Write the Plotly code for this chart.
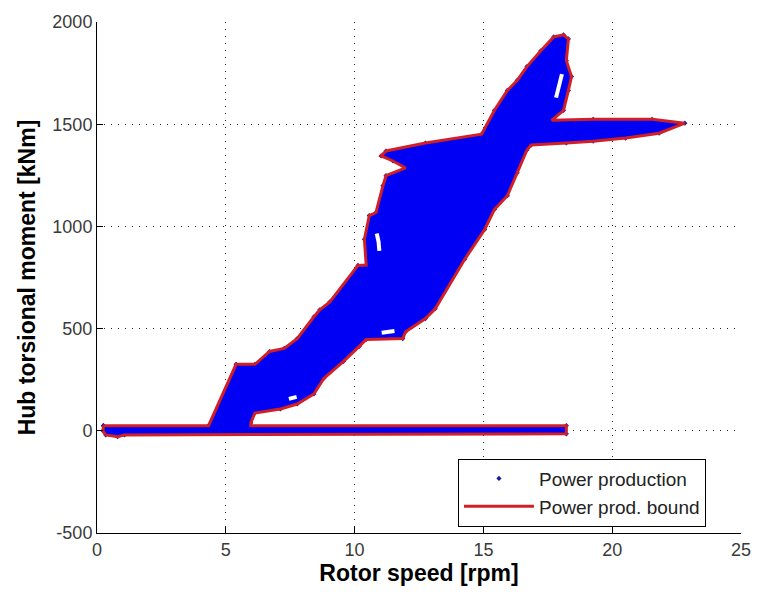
import plotly.graph_objects as go

# Outline of the power-production operating envelope (rotor speed [rpm], hub torsional moment [kNm])
bound_speed = [
    0.25, 4.33, 5.40, 6.13, 6.70, 7.27, 7.77, 8.42, 8.65, 9.04,
    10.13, 10.45, 10.38, 10.57, 10.83, 11.10, 11.22, 11.98, 11.49, 11.03,
    11.22, 12.75, 14.93, 15.43, 15.93, 16.31, 16.69, 17.23, 17.73, 18.11,
    18.30, 18.22, 18.42, 18.30, 18.11, 17.65, 19.26, 21.55, 22.82, 21.82,
    20.52, 19.26, 18.22, 16.85, 16.69, 16.31, 15.93, 15.43, 15.05, 14.28,
    13.13, 12.75, 11.98, 11.87, 10.45, 10.18, 9.57, 8.81, 8.42, 7.77,
    7.12, 6.13, 5.97, 5.97, 18.22, 18.22, 1.07, 0.80, 0.34, 0.23, 0.25,
]
bound_moment = [
    25, 25, 325, 325, 388, 403, 451, 558, 592, 631,
    809, 811, 937, 1053, 1068, 1199, 1248, 1286, 1320, 1345,
    1369, 1408, 1451, 1568, 1665, 1714, 1782, 1859, 1927, 1937,
    1917, 1811, 1733, 1665, 1568, 1519, 1524, 1524, 1505, 1456,
    1432, 1417, 1408, 1398, 1374, 1262, 1150, 1083, 985, 840,
    597, 549, 485, 451, 447, 413, 340, 257, 180, 131,
    107, 87, 39, 25, 25, -15, -20, -29, -20, 0, 25,
]

# Sample-free pockets inside the cloud (None separates pockets)
pocket_speed = [10.86, 10.93, 10.96, None, 17.82, 17.95, 18.05, None,
                7.45, 7.75, None, 11.05, 11.55]
pocket_moment = [965, 925, 880, None, 1630, 1690, 1745, None,
                 156, 166, None, 480, 488]

x_ticks = [0, 5, 10, 15, 20, 25]
y_ticks = [-500, 0, 500, 1000, 1500, 2000]
x_tick_text = ["0", "5", "10", "15", "20", "25"]
y_tick_text = ["-500", "0", "500", "1000", "1500", "2000"]

BLUE = "#0000f5"
RED = "#d11f26"
FONT = "Liberation Sans, Arial, sans-serif"

fig = go.Figure()

# individual samples (mostly hidden under the filled cloud)
fig.add_trace(go.Scatter(
    x=bound_speed, y=bound_moment, mode="markers", name="Power production",
    marker=dict(symbol="diamond", size=4, color="#1a1aa6"),
))
# dense cloud of power-production samples, drawn as the filled envelope
fig.add_trace(go.Scatter(
    x=bound_speed, y=bound_moment, fill="toself", fillcolor=BLUE,
    mode="none", showlegend=False, hoverinfo="skip",
))
fig.add_trace(go.Scatter(
    x=pocket_speed, y=pocket_moment, mode="lines",
    line=dict(color="white", width=4),
    showlegend=False, hoverinfo="skip",
))
fig.add_trace(go.Scatter(
    x=bound_speed, y=bound_moment, mode="lines", name="Power prod. bound",
    line=dict(color=RED, width=3, simplify=False),
))

axis_common = dict(
    showgrid=True, gridcolor="#222", gridwidth=1, griddash="1px,6px",
    showline=True, linecolor="black", linewidth=1,
    ticks="inside", ticklen=6, tickcolor="black",
    tickfont=dict(family=FONT, size=18, color="#3a3a3a"),
    zeroline=False,
)

fig.update_layout(
    width=763, height=596,
    margin=dict(l=97, r=13, t=18, b=63),
    paper_bgcolor="white", plot_bgcolor="white",
    xaxis=dict(
        range=[0, 25], tickvals=x_ticks, ticktext=x_tick_text, **axis_common,
        title=dict(text="Rotor speed [rpm]", standoff=6,
                   font=dict(family=FONT, size=23, color="black", weight="bold")),
    ),
    yaxis=dict(
        range=[-500, 2000], tickvals=y_ticks, ticktext=y_tick_text, **axis_common,
        title=dict(text="Hub torsional moment [kNm]", standoff=10,
                   font=dict(family=FONT, size=23, color="black", weight="bold")),
    ),
    legend=dict(
        x=0.5605, y=0.1456, xanchor="left", yanchor="top",
        bgcolor="white", bordercolor="black", borderwidth=1,
        font=dict(family=FONT, size=19, color="#222"),
        itemwidth=70,
    ),
    showlegend=True,
)

fig.write_html("out.html")
